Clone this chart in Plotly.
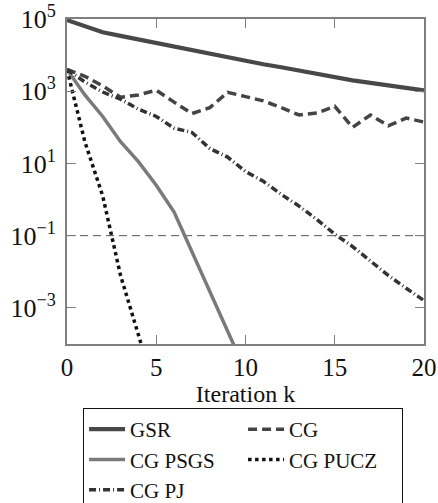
import plotly.graph_objects as go

# ---------------- data ----------------
iterations = list(range(21))
gsr = [9.3e4, 6.3e4, 4.3e4, 3.4e4, 2.7e4, 2.1e4, 1.7e4, 1.4e4, 1.07e4, 8.5e3,
       6.9e3, 5.6e3, 4.6e3, 3.7e3, 3.0e3, 2.45e3, 2.0e3, 1.7e3, 1.45e3, 1.23e3, 1.05e3]
cg = [4.0e3, 2.6e3, 1.4e3, 6.8e2, 7.9e2, 1.07e3, 5.0e2, 2.4e2, 3.5e2, 9.3e2,
      7.1e2, 5.4e2, 3.5e2, 2.2e2, 2.5e2, 3.8e2, 1.0e2, 2.2e2, 1.1e2, 1.8e2, 1.4e2]
psgs_iter = list(range(11))
cg_psgs = [4.0e3, 7.9e2, 2.0e2, 40.0, 11.2, 2.5, 0.45, 0.035, 2.8e-3, 2.2e-4, 1.8e-5]
pucz_iter = list(range(6))
cg_pucz = [4.0e3, 40.0, 1.26, 7.9e-3, 1.8e-4, 4.0e-6]
cg_pj = [4.0e3, 1.8e3, 9.5e2, 6.0e2, 3.2e2, 2.0e2, 95.0, 72.0, 26.0, 15.0,
         6.0, 3.2, 1.4, 0.66, 0.28, 0.11, 0.05, 0.02, 7.9e-3, 3.5e-3, 1.6e-3]
tol_x = [0, 20]
tol_y = [0.1, 0.1]

x_tickvals = [0, 5, 10, 15, 20]
y_tickvals = [1e5, 1e3, 1e1, 1e-1, 1e-3]
y_ticktext = ["10<sup>5</sup>", "10<sup>3</sup>", "10<sup>1</sup>",
              "10<sup>\u22121</sup>", "10<sup>\u22123</sup>"]

FONT = "Liberation Serif"
AXIS_GRAY = "#7f7f7f"

fig = go.Figure()
fig.add_trace(go.Scatter(x=tol_x, y=tol_y, mode="lines", showlegend=False,
                         line=dict(color="#555555", width=1, dash="8px,5px"),
                         hoverinfo="skip"))
fig.add_trace(go.Scatter(x=iterations, y=gsr, mode="lines", name="GSR",
                         line=dict(color="#484848", width=4.2)))
fig.add_trace(go.Scatter(x=iterations, y=cg, mode="lines", name="CG",
                         line=dict(color="#444444", width=3.5, dash="9px,5px")))
fig.add_trace(go.Scatter(x=psgs_iter, y=cg_psgs, mode="lines", name="CG PSGS",
                         line=dict(color="#7a7a7a", width=3.5)))
fig.add_trace(go.Scatter(x=pucz_iter, y=cg_pucz, mode="lines", name="CG PUCZ",
                         line=dict(color="#111111", width=3.5, dash="3.5px,3.5px")))
fig.add_trace(go.Scatter(x=iterations, y=cg_pj, mode="lines", name="CG PJ",
                         line=dict(color="#333333", width=3.5, dash="7px,3px,1px,3px")))

fig.update_layout(
    width=438, height=503,
    margin=dict(l=67, r=14, t=19, b=159, autoexpand=False),
    paper_bgcolor="white", plot_bgcolor="white",
    font=dict(family=FONT, size=24, color="#111111"),
    showlegend=True,
    legend=dict(orientation="h", x=0.045, xanchor="left", y=-0.197, yanchor="top",
                bordercolor="#111111", borderwidth=1, bgcolor="white",
                font=dict(family=FONT, size=21, color="#111111"),
                entrywidth=108, itemwidth=36, traceorder="normal"),
    xaxis=dict(range=[0, 20], tickvals=x_tickvals, ticks="inside", ticklen=9,
               tickcolor=AXIS_GRAY, tickwidth=1, showline=True, linecolor=AXIS_GRAY,
               linewidth=2, mirror="ticks", showgrid=False, zeroline=False,
               tickfont=dict(family=FONT, size=25),
               title=dict(text="Iteration k", font=dict(family=FONT, size=24), standoff=4)),
    yaxis=dict(type="log", range=[-4, 5], tickvals=y_tickvals, ticktext=y_ticktext,
               ticks="inside", ticklen=9, tickcolor=AXIS_GRAY, tickwidth=1,
               showline=True, linecolor=AXIS_GRAY, linewidth=2, mirror="ticks",
               showgrid=False, zeroline=False, tickfont=dict(family=FONT, size=26),
               ticklabelstandoff=4),
)

fig.write_html("out.html")
